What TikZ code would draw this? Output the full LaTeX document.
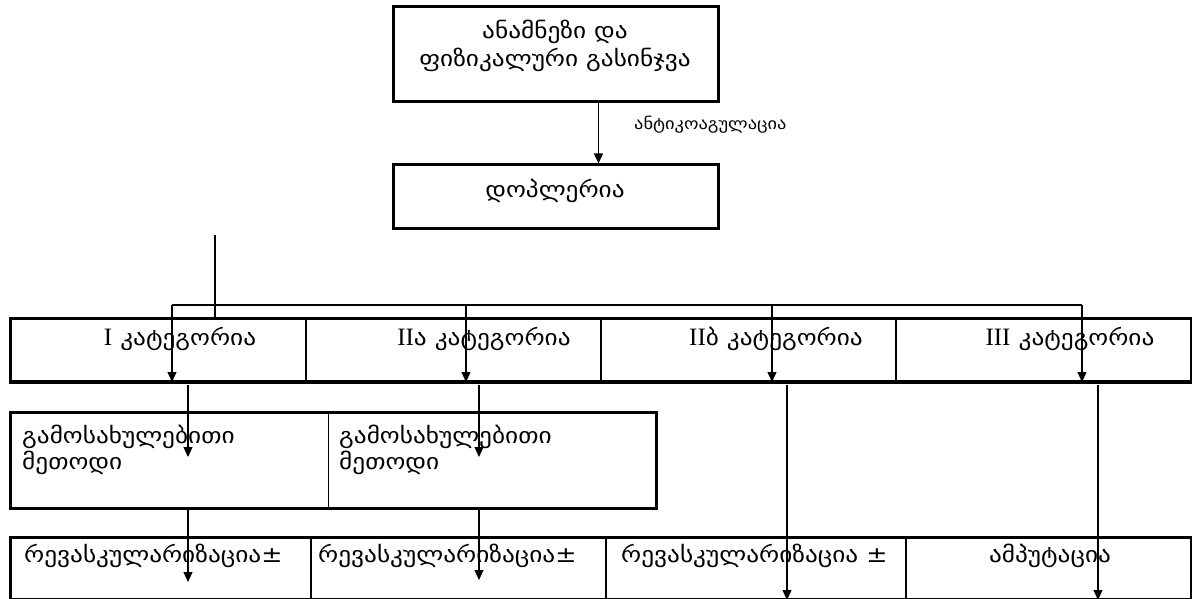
\documentclass[tikz,border=0pt]{standalone}
\usepackage{fontspec}
\setmainfont[FakeStretch=1.15]{DejaVu Sans}
\newfontfamily\latf{Liberation Serif}
\usetikzlibrary{arrows.meta}

\begin{document}
\begin{tikzpicture}[x=1pt,y=-1pt,
  box/.style={draw, line width=3pt, inner sep=0pt},
  cell/.style={draw, inner sep=0pt, anchor=north west},
  txt/.style={font=\fontsize{22}{28}\selectfont, inner sep=0pt},
  small/.style={font=\fontsize{16}{20}\selectfont, inner sep=0pt},
  num/.style={font=\latf\fontsize{25}{28}\selectfont},
  ln/.style={line width=1.2pt},
  arr/.style={line width=1.2pt, -{Triangle[length=10pt,width=9pt]}}]
\useasboundingbox[fill=white] (0,0) rectangle (1192,599);

% top: history and examination
\node[box, minimum width=325pt, minimum height=95pt] (exam) at (555.5,54.5) {};
\node[txt, align=center] (examT) at (555,46) {ანამნეზი და\\ფიზიკალური გასინჯვა};

% Doppler
\node[box, minimum width=325pt, minimum height=63pt] (dop) at (555.5,196.5) {};
\node[txt, anchor=base] (dopT) at (555,197) {დოპლერია};

\draw[arr] ([xshift=43pt]exam.south) -- ([xshift=43pt]dop.north);
\node[small, anchor=base west] (coag) at (634,130) {ანტიკოაგულაცია};

% category row
\foreach \n/\x in {1/10,2/305,3/600,4/895}
  \node[cell, line width=2pt, minimum width=295pt, minimum height=62pt] (cat\n) at (\x,318) {};
\draw[line width=3pt] (cat1.north west) rectangle (cat4.south east);
\node[txt, anchor=base] (cat1T) at (180,345) {{\latf\fontsize{25}{28}\selectfont I} კატეგორია};
\node[txt, anchor=base] (cat2T) at (484,345) {{\latf\fontsize{25}{28}\selectfont II}ა კატეგორია};
\node[txt, anchor=base] (cat3T) at (776,345) {{\latf\fontsize{25}{28}\selectfont II}ბ კატეგორია};
\node[txt, anchor=base] (cat4T) at (1070,345) {{\latf\fontsize{25}{28}\selectfont III} კატეგორია};

% branching
\coordinate (stem) at (215,235);
\draw[ln] (stem) -- (stem |- cat1.north);
\coordinate (j1) at (172,305);
\coordinate (j2) at (466,305);
\coordinate (j3) at (772,305);
\coordinate (j4) at (1082,305);
\draw[ln] (j1) -- (j4);
\foreach \j/\c in {j1/cat1,j2/cat2,j3/cat3,j4/cat4}
  \draw[arr] (\j) -- (\j |- \c.south);

% imaging method row
\node[cell, line width=1pt, minimum width=318pt, minimum height=95pt] (img1) at (10,412) {};
\node[cell, line width=1pt, minimum width=327pt, minimum height=95pt] (img2) at (328,412) {};
\draw[line width=3pt] (img1.north west) rectangle (img2.south east);
\node[txt, anchor=base west] (img1T) at (22,443) {გამოსახულებითი};
\node[txt, anchor=base west] (img1U) at (22,469) {მეთოდი};
\node[txt, anchor=base west] (img2T) at (339,443) {გამოსახულებითი};
\node[txt, anchor=base west] (img2U) at (339,469) {მეთოდი};

% treatment row
\node[cell, line width=2pt, minimum width=300pt, minimum height=61pt] (tr1) at (10,537) {};
\node[cell, line width=2pt, minimum width=295pt, minimum height=61pt] (tr2) at (310,537) {};
\node[cell, line width=2pt, minimum width=300pt, minimum height=61pt] (tr3) at (605,537) {};
\node[cell, line width=2pt, minimum width=285pt, minimum height=61pt] (tr4) at (905,537) {};
\draw[line width=3pt] (tr1.north west) rectangle (tr4.south east);
\node[txt, anchor=base west] (tr1T) at (24,562) {რევასკულარიზაცია±};
\node[txt, anchor=base west] (tr2T) at (318,562) {რევასკულარიზაცია±};
\node[txt, anchor=base west] (tr3T) at (621,562) {რევასკულარიზაცია ±};
\node[txt, anchor=base] (tr4T) at (1050,562) {ამპუტაცია};

% arrows through the lower rows
\coordinate (a1) at (188,385); \coordinate (a1e) at (188,457);
\coordinate (b1) at (188,510); \coordinate (b1e) at (188,582);
\coordinate (a2) at (479,385); \coordinate (a2e) at (479,457);
\coordinate (b2) at (479,510); \coordinate (b2e) at (479,580);
\coordinate (a3) at (787,385);
\coordinate (a4) at (1098,385);
\draw[arr] (a1) -- (a1e);
\draw[arr] (b1) -- (b1e);
\draw[arr] (a2) -- (a2e);
\draw[arr] (b2) -- (b2e);
\draw[arr] (a3) -- (a3 |- tr3.south);
\draw[arr] (a4) -- (a4 |- tr4.south);
\end{tikzpicture}
\end{document}
